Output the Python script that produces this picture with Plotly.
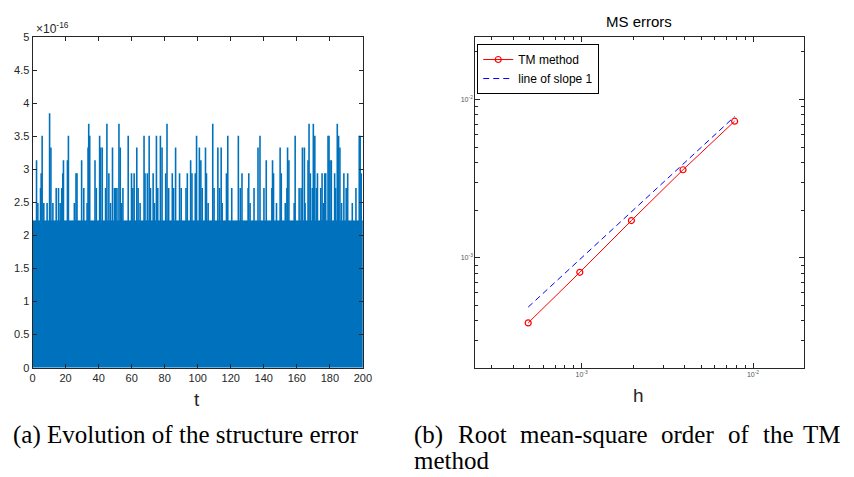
import plotly.graph_objects as go

# ---------------- data ----------------
# (a) structure error, in units of 1e-16
t_span = [0, 200]
floor_level = 2.22  # dense floor of round-off values
spike_t = [2.4, 3.2, 4.8, 5.2, 5.8, 6.8, 8.8, 10.3, 11.1, 12.3, 14.3, 15.7, 16.7, 17.7, 18.3, 18.7,
           21.1, 21.7, 25.3, 26.3, 26.9, 29.7, 31.0, 33.0, 33.6, 34.0, 34.6, 37.8, 38.6, 40.6, 41.2,
           42.2, 44.2, 45.0, 46.2, 47.2, 48.4, 49.6, 50.4, 51.1, 52.3, 53.1, 53.9, 54.7, 57.9, 59.9,
           60.7, 61.5, 63.1, 63.9, 65.1, 67.5, 68.1, 69.5, 70.6, 71.4, 73.0, 73.8, 75.0, 75.8, 77.4,
           78.4, 80.6, 81.4, 82.4, 84.6, 85.4, 86.6, 89.0, 90.0, 92.9, 93.7, 95.7, 96.5, 98.5, 99.3,
           101.0, 101.9, 102.7, 104.7, 105.3, 106.3, 109.1, 109.9, 112.2, 113.2, 114.2, 114.8, 117.4,
           118.2, 120.6, 124.6, 125.8, 126.8, 130.5, 130.9, 131.7, 134.1, 136.5, 137.7, 140.1, 141.5,
           144.9, 145.3, 145.9, 147.7, 149.9, 150.6, 153.0, 154.0, 154.4, 155.2, 158.4, 159.0, 161.4,
           162.6, 163.4, 164.6, 165.0, 166.8, 167.4, 168.2, 169.4, 170.0, 170.9, 171.9, 172.5, 174.5,
           175.3, 176.1, 176.9, 177.5, 178.9, 179.5, 180.1, 180.9, 182.9, 183.5, 184.5, 185.3, 186.1,
           187.1, 188.5, 189.9, 190.8, 193.6, 195.8, 197.8, 198.4, 199.0]
spike_h = [3.14, 2.49, 2.72, 2.94, 3.51, 2.49, 2.49, 3.85, 3.33, 2.49, 2.72, 2.72, 2.49, 2.72, 2.94, 3.14,
           3.14, 3.51, 2.49, 2.94, 2.94, 3.14, 2.72, 2.49, 3.33, 3.69, 3.51, 3.14, 2.72, 3.51, 3.33,
           3.33, 2.72, 3.69, 2.94, 2.49, 3.33, 2.72, 2.72, 2.72, 3.69, 3.33, 2.49, 2.72, 3.51, 2.94,
           2.72, 2.94, 3.33, 2.72, 2.49, 3.51, 2.94, 2.94, 3.51, 2.72, 2.94, 2.49, 3.51, 2.72, 3.51,
           3.33, 2.94, 3.69, 2.72, 2.94, 2.72, 3.33, 2.94, 2.72, 2.72, 2.94, 3.14, 2.94, 2.94, 3.51,
           3.33, 3.14, 2.72, 3.33, 2.94, 2.49, 3.69, 2.72, 3.33, 2.72, 3.33, 2.49, 2.94,
           3.51, 2.72, 3.51, 2.72, 2.94, 2.72, 2.94, 2.49, 2.72, 3.33, 3.51, 2.72, 3.14,
           2.72, 3.14, 2.94, 2.49, 3.33, 2.94, 2.49, 2.72, 3.33, 3.14, 2.49, 3.51, 2.72,
           2.72, 3.33, 3.33, 2.49, 3.14, 3.69, 2.94, 2.72, 3.69, 3.51, 2.72, 2.94, 2.72,
           2.94, 2.49, 2.94, 2.94, 3.51, 3.51, 3.14, 3.14, 2.94, 2.72, 3.69, 3.51, 3.33,
           2.49, 2.94, 2.72, 2.94, 2.49, 2.72, 3.51, 3.51, 2.94]
err_ticks = [0, 0.5, 1, 1.5, 2, 2.5, 3, 3.5, 4, 4.5, 5]
t_ticks = [0, 20, 40, 60, 80, 100, 120, 140, 160, 180, 200]

# (b) mean-square errors of the TM method
h = [2 ** -11, 2 ** -10, 2 ** -9, 2 ** -8, 2 ** -7]
ms_err = [3.88e-4, 8.1e-4, 1.72e-3, 3.6e-3, 7.3e-3]
slope_const = 1.0
ref_line = [slope_const * v for v in h]

# ---------------- style ----------------
W, H = 854, 477
BLUE = "#0072BD"
AX = "#262626"
SANS = "Liberation Sans, Arial, sans-serif"
SERIF = "Liberation Serif, Times New Roman, serif"
CAP = 25


def px(x):
    return x / W


def py(y):
    return (H - y) / H


fig = go.Figure()

# (a) dense floor drawn as a filled band, spikes as vertical strokes
fig.add_trace(go.Scatter(
    x=t_span, y=[floor_level, floor_level], mode="lines", fill="tozeroy",
    line=dict(color=BLUE, width=1), fillcolor=BLUE,
    xaxis="x", yaxis="y", showlegend=False, hoverinfo="skip"))

sx, sy = [], []
for t, v in zip(spike_t, spike_h):
    sx += [t, t, None]
    sy += [floor_level, v, None]
fig.add_trace(go.Scatter(
    x=sx, y=sy, mode="lines", line=dict(color=BLUE, width=1.6),
    xaxis="x", yaxis="y", showlegend=False, hoverinfo="skip"))

# (b) convergence plot
fig.add_trace(go.Scatter(
    x=h, y=ms_err, mode="lines+markers", name="TM method",
    line=dict(color="#FF0000", width=1),
    marker=dict(symbol="circle-open", size=6, color="#FF0000", line=dict(width=1.2)),
    xaxis="x2", yaxis="y2"))
fig.add_trace(go.Scatter(
    x=h, y=ref_line, mode="lines", name="line of slope 1",
    line=dict(color="#0000FF", width=1, dash="6px,4px"),
    xaxis="x2", yaxis="y2"))

dom_y = [py(371), py(32)]
common = dict(showline=True, linecolor=AX, linewidth=1, mirror="ticks", ticks="inside",
              tickcolor=AX, showgrid=False, zeroline=False)


def minor_dec(e):
    return [k * 10 ** e for k in range(2, 10)]


x2_minor = [v for v in minor_dec(-4) + minor_dec(-3) + minor_dec(-2) if 2.4e-4 <= v <= 1.97e-2]
y2_minor = [v for v in minor_dec(-4) + minor_dec(-3) + minor_dec(-2) if 2.02e-4 <= v <= 2.48e-2]

fig.update_layout(
    width=W, height=H, autosize=False,
    margin=dict(l=0, r=0, t=0, b=0),
    paper_bgcolor="white", plot_bgcolor="white",
    showlegend=True,
    xaxis=dict(domain=[px(30), px(365)], range=[0, 200], tickvals=t_ticks, ticklen=4,
               tickfont=dict(family=SANS, size=11, color=AX), anchor="y", **common),
    yaxis=dict(domain=dom_y, range=[0, 5], tickvals=err_ticks, ticklen=4,
               tickfont=dict(family=SANS, size=11, color=AX), anchor="x", **common),
    xaxis2=dict(domain=[px(479), px(812)], type="log", range=[-3.62, -1.705],
                tickvals=[1e-3, 1e-2], ticktext=["10<sup>-3</sup>", "10<sup>-2</sup>"],
                ticklen=5, tickfont=dict(family=SANS, size=7, color="#555555"),
                minor=dict(tickmode="array", tickvals=x2_minor, ticks="inside", ticklen=3, tickcolor=AX),
                anchor="y2", **common),
    yaxis2=dict(domain=dom_y, type="log", range=[-3.694, -1.606],
                tickvals=[1e-3, 1e-2], ticktext=["10<sup>-3</sup>", "10<sup>-2</sup>"],
                ticklen=5, tickfont=dict(family=SANS, size=7, color="#555555"),
                minor=dict(tickmode="array", tickvals=y2_minor, ticks="inside", ticklen=3, tickcolor=AX),
                anchor="x2", **common),
    legend=dict(x=px(481), y=py(39), xanchor="left", yanchor="top",
                bgcolor="white", bordercolor="#000000", borderwidth=1,
                font=dict(family=SANS, size=12, color="#000000"),
                tracegroupgap=0, itemwidth=30),
)

ann = [
    dict(text="×10<sup>-16</sup>", x=px(31), y=py(23), xanchor="left", yanchor="middle",
         font=dict(family=SANS, size=12, color=AX)),
    dict(text="t", x=px(197), y=py(404), xanchor="center", yanchor="middle",
         font=dict(family=SANS, size=19, color=AX)),
    dict(text="MS errors", x=px(645.5), y=py(16), xanchor="center", yanchor="middle",
         font=dict(family=SANS, size=15, color="#000000")),
    dict(text="h", x=px(645), y=py(400), xanchor="center", yanchor="middle",
         font=dict(family=SANS, size=19, color=AX)),
    dict(text="(a) Evolution of the structure error", x=px(8), y=py(440), xanchor="left",
         yanchor="middle", font=dict(family=SERIF, size=CAP, color="#000000")),
    dict(text="method", x=px(415), y=py(466), xanchor="left",
         yanchor="middle", font=dict(family=SERIF, size=CAP, color="#000000")),
]
# justified first line of caption (b)
words_b = ["(b)", "Root", "mean-square", "order", "of", "the", "TM"]
word_x = [415, 459, 522, 665, 733, 769, 852]
for w, xw in zip(words_b, word_x):
    ann.append(dict(text=w, x=px(xw), y=py(440), xanchor="right" if w == "TM" else "left",
                    yanchor="middle", font=dict(family=SERIF, size=CAP, color="#000000")))

for a in ann:
    a.update(xref="paper", yref="paper", showarrow=False)
fig.update_layout(annotations=ann)

fig.write_html("out.html")
